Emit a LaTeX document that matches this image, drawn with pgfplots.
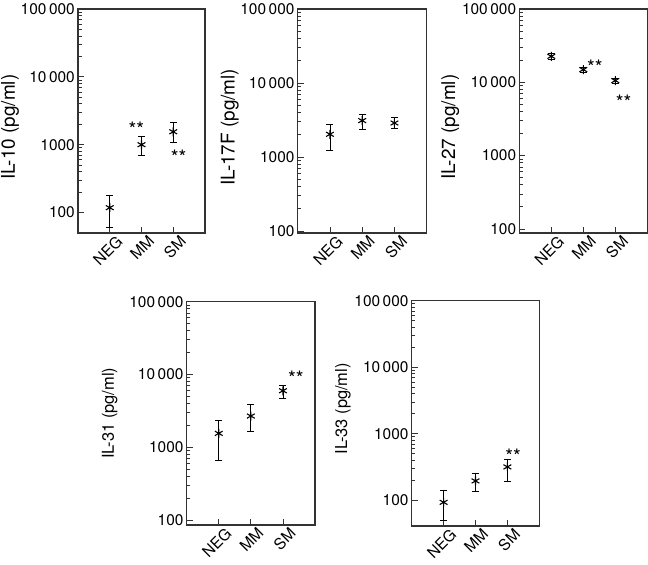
\documentclass[border=0pt]{standalone}
\usepackage{fontspec}
\setmainfont{TeX Gyre Heros}
\usepackage{pgfplots}
\pgfplotsset{compat=1.18}
\newcommand{\tl}{\fontsize{15.5}{18}\selectfont}
\newcommand{\st}{\fontsize{20}{24}\selectfont}
\pgfplotsset{
 every axis/.append style={
  scale only axis, xmin=0, xmax=4, ymax=100000,
  xtick={1,2,3}, xticklabels={{\tl NEG},{\tl MM},{\tl SM}},
  ytick={100,1000,10000,100000},
  yticklabels={{\tl 100},{\tl 1000},{\tl 10\,000},{\tl 100\,000}},
  tick pos=left, tick align=inside,
  major tick length=6bp, minor tick length=3.5bp,
  axis line style={line width=1.1pt, black!80},
  tick style={black!80, line width=0.8pt},
  yticklabel style={inner sep=1bp, xshift=-2bp},
  xticklabel style={rotate=45, anchor=north east, inner sep=1bp, xshift=4bp, yshift=-4bp},
  clip=false,
 },
}
\begin{document}
\fontsize{15.5}{18}\selectfont
\begin{tikzpicture}
\path[use as bounding box] (0,0) rectangle (648bp,565bp);
% IL-10
\begin{semilogyaxis}[at={(78bp,332bp)}, anchor=south west, width=127bp, height=224bp,
  ymin=50, ylabel={\fontsize{19}{22}\selectfont IL-10 (pg/ml)},
  ylabel style={at={(axis description cs:-0.535,0.473)}, anchor=center}]
\addplot[black, only marks, mark=asterisk, mark size=4.5bp, line width=1.1pt,
  error bars/.cd, y dir=both, y explicit,
  error bar style={line width=0.8pt, black},
  error mark options={rotate=90, mark size=3.5bp, line width=0.8pt, black}] coordinates {
 (1,118) +=(0,62) -=(0,58)
 (2,1000) +=(0,310) -=(0,304)
 (3,1552) +=(0,576) -=(0,457)
};
\node[anchor=base, inner sep=0pt, yshift=-11bp] at (axis cs:1.84,1923) {\st **};
\node[anchor=base, inner sep=0pt, yshift=-11bp] at (axis cs:3.17,737) {\st **};
\end{semilogyaxis}
% IL-17F
\begin{semilogyaxis}[at={(297.7bp,332bp)}, anchor=south west, width=129bp, height=224bp,
  ymin=94, ylabel={\fontsize{19}{22}\selectfont IL-17F (pg/ml)},
  ylabel style={at={(axis description cs:-0.527,0.473)}, anchor=center}]
\addplot[black, only marks, mark=asterisk, mark size=4.5bp, line width=1.1pt,
  error bars/.cd, y dir=both, y explicit,
  error bar style={line width=0.8pt, black},
  error mark options={rotate=90, mark size=3.5bp, line width=0.8pt, black}] coordinates {
 (1,2027) +=(0,740) -=(0,795)
 (2,3104) +=(0,672) -=(0,736)
 (3,2880) +=(0,590) -=(0,437)
};
\end{semilogyaxis}
% IL-27
\begin{semilogyaxis}[at={(519.3bp,332bp)}, anchor=south west, width=128bp, height=224bp,
  ymin=88, ylabel={\fontsize{19}{22}\selectfont IL-27 (pg/ml)},
  ylabel style={at={(axis description cs:-0.539,0.473)}, anchor=center}]
\addplot[black, only marks, mark=asterisk, mark size=4.5bp, line width=1.1pt,
  error bars/.cd, y dir=both, y explicit,
  error bar style={line width=0.8pt, black},
  error mark options={rotate=90, mark size=3.5bp, line width=0.8pt, black}] coordinates {
 (1,22600) +=(0,2000) -=(0,1800)
 (2,14900) +=(0,1300) -=(0,1200)
 (3,10550) +=(0,900) -=(0,750)
};
\node[anchor=base, inner sep=0pt, yshift=-11bp] at (axis cs:2.36,18300) {\st **};
\node[anchor=base, inner sep=0pt, yshift=-11bp] at (axis cs:3.26,5990) {\st **};
\end{semilogyaxis}
% IL-31
\begin{semilogyaxis}[at={(186.7bp,40bp)}, anchor=south west, width=128.3bp, height=223.3bp,
  ymin=86, ylabel={\fontsize{16.5}{19}\selectfont IL-31 (pg/ml)},
  ylabel style={at={(axis description cs:-0.6,0.5)}, anchor=center}]
\addplot[black, only marks, mark=asterisk, mark size=4.5bp, line width=1.1pt,
  error bars/.cd, y dir=both, y explicit,
  error bar style={line width=0.8pt, black},
  error mark options={rotate=90, mark size=3.5bp, line width=0.8pt, black}] coordinates {
 (1,1557) +=(0,814) -=(0,888)
 (2,2693) +=(0,1153) -=(0,1034)
 (3,5990) +=(0,1180) -=(0,1280)
};
\node[anchor=base, inner sep=0pt, yshift=-11bp] at (axis cs:3.40,10000) {\st **};
\end{semilogyaxis}
% IL-33
\begin{semilogyaxis}[at={(411.7bp,39bp)}, anchor=south west, width=127.6bp, height=225.3bp,
  ymin=41, ylabel={\fontsize{16.5}{19}\selectfont IL-33 (pg/ml)},
  ylabel style={at={(axis description cs:-0.54,0.52)}, anchor=center}]
\addplot[black, only marks, mark=asterisk, mark size=4.5bp, line width=1.1pt,
  error bars/.cd, y dir=both, y explicit,
  error bar style={line width=0.8pt, black},
  error mark options={rotate=90, mark size=3.5bp, line width=0.8pt, black}] coordinates {
 (1,93) +=(0,48) -=(0,44)
 (2,195) +=(0,57) -=(0,57)
 (3,317) +=(0,100) -=(0,124)
};
\node[anchor=base, inner sep=0pt, yshift=-11bp] at (axis cs:3.18,521) {\st **};
\end{semilogyaxis}
\end{tikzpicture}
\end{document}
